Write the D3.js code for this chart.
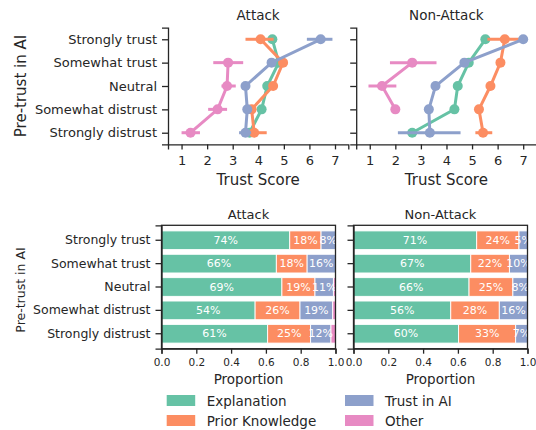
<!DOCTYPE html>
<html>
<head>
<meta charset="utf-8">
<script src="https://cdn.jsdelivr.net/npm/d3@7/dist/d3.min.js"></script>
<style>
  html, body { margin: 0; padding: 0; background: #fff; }
  svg { display: block; }
  svg text { font-family: "DejaVu Sans", Verdana, sans-serif !important; }
  .tick text { fill: #262626; }
  .tick line, .domain { stroke: #262626; }
</style>
</head>
<body>
<svg id="chart" width="536" height="430"></svg>
<script>
// ---------- data ----------
const categories = ["Strongly trust", "Somewhat trust", "Neutral", "Somewhat distrust", "Strongly distrust"];
const reasons = ["Explanation", "Prior Knowledge", "Trust in AI", "Other"];
const colors = ["#66c2a5", "#fc8d62", "#8da0cb", "#e78ac3"];
const panelTitles = ["Attack", "Non-Attack"];
const scoreTicks = [1, 2, 3, 4, 5, 6, 7];
const propTicks = [0, 0.2, 0.4, 0.6, 0.8, 1.0];

// mean trust score (null = no data), with CI low / high
const attackExplanation   = [4.55, 4.80, 4.35, 4.13, 3.66];
const attackExplanationLo = [4.45, 4.70, 4.25, 4.03, 3.55];
const attackExplanationHi = [4.65, 4.90, 4.45, 4.23, 3.77];
const attackPrior         = [4.09, 4.97, 4.58, 3.74, 3.84];
const attackPriorLo       = [3.50, 4.87, 4.48, 3.64, 3.48];
const attackPriorHi       = [4.60, 5.07, 4.68, 3.84, 4.33];
const attackTrustAI       = [6.44, 4.52, 3.50, 3.57, 3.50];
const attackTrustAILo     = [5.90, 4.42, 3.40, 3.47, 3.25];
const attackTrustAIHi     = [6.90, 4.62, 3.60, 3.67, 3.72];
const attackOther         = [null, 2.82, 2.78, 2.41, 1.35];
const attackOtherLo       = [null, 2.24, 2.56, 2.04, 1.00];
const attackOtherHi       = [null, 3.41, 3.12, 2.78, 1.72];

const nonAttackExplanation   = [5.52, 4.87, 4.44, 4.31, 2.66];
const nonAttackExplanationLo = [5.42, 4.77, 4.34, 4.21, 2.56];
const nonAttackExplanationHi = [5.62, 4.97, 4.54, 4.41, 2.76];
const nonAttackPrior         = [6.28, 6.11, 5.72, 5.27, 5.43];
const nonAttackPriorLo       = [5.60, 6.01, 5.62, 5.17, 5.13];
const nonAttackPriorHi       = [6.90, 6.21, 5.82, 5.37, 5.79];
const nonAttackTrustAI       = [7.00, 4.70, 3.57, 3.31, 3.35];
const nonAttackTrustAILo     = [7.00, 4.60, 3.47, 3.21, 2.10];
const nonAttackTrustAIHi     = [7.00, 4.80, 3.67, 3.41, 4.55];
const nonAttackOther         = [null, 2.66, 1.48, 2.00, null];
const nonAttackOtherLo       = [null, 1.79, 0.95, 2.00, null];
const nonAttackOtherHi       = [null, 3.61, 2.04, 2.00, null];

// proportions of reasons
const propAttackExplanation    = [0.737, 0.660, 0.692, 0.538, 0.610];
const propAttackPrior          = [0.180, 0.177, 0.190, 0.258, 0.247];
const propAttackTrustAI        = [0.083, 0.163, 0.106, 0.188, 0.117];
const propAttackOther          = [0.000, 0.000, 0.012, 0.016, 0.026];
const propNonAttackExplanation = [0.708, 0.674, 0.664, 0.559, 0.604];
const propNonAttackPrior       = [0.243, 0.222, 0.252, 0.279, 0.328];
const propNonAttackTrustAI     = [0.049, 0.104, 0.084, 0.162, 0.068];
const propNonAttackOther       = [0.000, 0.000, 0.000, 0.000, 0.000];

// ---------- build tables ----------
const scorePanels = [
  [[attackExplanation, attackExplanationLo, attackExplanationHi],
   [attackPrior, attackPriorLo, attackPriorHi],
   [attackTrustAI, attackTrustAILo, attackTrustAIHi],
   [attackOther, attackOtherLo, attackOtherHi]],
  [[nonAttackExplanation, nonAttackExplanationLo, nonAttackExplanationHi],
   [nonAttackPrior, nonAttackPriorLo, nonAttackPriorHi],
   [nonAttackTrustAI, nonAttackTrustAILo, nonAttackTrustAIHi],
   [nonAttackOther, nonAttackOtherLo, nonAttackOtherHi]]
];
const propPanels = [
  [propAttackExplanation, propAttackPrior, propAttackTrustAI, propAttackOther],
  [propNonAttackExplanation, propNonAttackPrior, propNonAttackTrustAI, propNonAttackOther]
];

const FONT = "DejaVu Sans";
const svg = d3.select("#chart").attr("font-family", FONT);
const textColor = "#262626";

// ---------- top: point plots ----------
const topLefts = [168, 356.2];
const topWidth = 180.3;
const yTop = d3.scalePoint().domain(categories).range([27.6, 144.4]).padding(0.5);

scorePanels.forEach((series, p) => {
  const x = d3.scaleLinear().domain([0.47, 7.52]).range([topLefts[p], topLefts[p] + topWidth]);
  const g = svg.append("g");

  const xa = g.append("g").attr("transform", `translate(0,${yTop.range()[1]})`)
    .call(d3.axisBottom(x).tickValues(scoreTicks).tickFormat(d3.format("d")).tickSizeOuter(0).tickSize(5).tickPadding(6))
    .attr("font-family", FONT);
  xa.selectAll("text").style("font-size", "13px");
  xa.selectAll("line, path").attr("stroke-width", 1.3);

  const ya = g.append("g").attr("transform", `translate(${topLefts[p]},0)`)
    .call(d3.axisLeft(yTop).tickSizeOuter(0).tickSize(6).tickPadding(5))
    .attr("font-family", FONT);
  ya.selectAll("line, path").attr("stroke-width", 1.3);
  if (p === 0) ya.selectAll("text").style("font-size", "13px");
  else ya.selectAll("text").remove();

  g.append("text").attr("x", topLefts[p] + topWidth / 2).attr("y", 20)
    .attr("text-anchor", "middle").style("font-size", "13.5px").attr("fill", textColor)
    .text(panelTitles[p]);
  g.append("text").attr("x", topLefts[p] + topWidth / 2).attr("y", 185)
    .attr("text-anchor", "middle").style("font-size", "15px").attr("fill", textColor)
    .text("Trust Score");

  series.forEach(([mean, lo, hi], s) => {
    const pts = categories.map((c, i) => ({ c, v: mean[i], lo: lo[i], hi: hi[i] }))
      .filter(d => d.v !== null);
    const sg = g.append("g");
    sg.selectAll("line.err").data(pts.filter(d => d.hi > d.lo)).join("line")
      .attr("x1", d => x(d.lo)).attr("x2", d => x(d.hi))
      .attr("y1", d => yTop(d.c)).attr("y2", d => yTop(d.c))
      .attr("stroke", colors[s]).attr("stroke-width", 3);
    sg.append("path").datum(pts)
      .attr("d", d3.line().x(d => x(d.v)).y(d => yTop(d.c)))
      .attr("fill", "none").attr("stroke", colors[s]).attr("stroke-width", 3);
    sg.selectAll("circle").data(pts).join("circle")
      .attr("cx", d => x(d.v)).attr("cy", d => yTop(d.c)).attr("r", 5)
      .attr("fill", colors[s]);
  });
});

svg.append("text").attr("transform", "translate(21,86) rotate(-90)")
  .attr("text-anchor", "middle").attr("dominant-baseline", "central")
  .style("font-size", "15px").attr("fill", textColor).text("Pre-trust in AI");

// ---------- bottom: stacked bars ----------
const botLefts = [161.5, 353.5];
const botWidth = 174;
const yBot = d3.scaleBand().domain(categories).range([225.3, 348.7]).paddingInner(0.2).paddingOuter(0.24);
const pctFmt = d3.format(".0%");

propPanels.forEach((series, p) => {
  const x = d3.scaleLinear().domain([0, 1]).range([botLefts[p], botLefts[p] + botWidth]);
  const g = svg.append("g");
  const clipId = "clip" + p;
  svg.append("clipPath").attr("id", clipId).append("rect")
    .attr("x", botLefts[p]).attr("y", yBot.range()[0]).attr("width", botWidth)
    .attr("height", yBot.range()[1] - yBot.range()[0]);

  const rows = categories.map((c, i) => {
    let acc = 0;
    return series.map((arr, s) => {
      const d = { c, s, x0: acc, v: arr[i] };
      acc += arr[i];
      return d;
    });
  }).flat();

  const bars = g.append("g").attr("clip-path", `url(#${clipId})`);
  bars.selectAll("rect").data(rows.filter(d => d.v > 0)).join("rect")
    .attr("x", d => x(d.x0)).attr("width", d => x(d.x0 + d.v) - x(d.x0))
    .attr("y", d => yBot(d.c)).attr("height", yBot.bandwidth())
    .attr("fill", d => colors[d.s]).attr("stroke", "#fff").attr("stroke-width", 0.9);
  bars.selectAll("text").data(rows.filter(d => d.v >= 0.04)).join("text")
    .attr("x", d => x(d.x0 + d.v / 2)).attr("y", d => yBot(d.c) + yBot.bandwidth() / 2)
    .attr("text-anchor", "middle").attr("dominant-baseline", "central")
    .style("font-size", "11px").attr("fill", "#fff")
    .text(d => pctFmt(d.v));

  g.append("rect").attr("x", botLefts[p]).attr("y", yBot.range()[0])
    .attr("width", botWidth).attr("height", yBot.range()[1] - yBot.range()[0])
    .attr("fill", "none").attr("stroke", textColor).attr("stroke-width", 1.3);

  const xa = g.append("g").attr("transform", `translate(0,${yBot.range()[1]})`)
    .call(d3.axisBottom(x).tickValues(propTicks).tickFormat(d3.format(".1f")).tickSizeOuter(0).tickSize(5).tickPadding(5))
    .attr("font-family", FONT);
  xa.selectAll("text").style("font-size", "10.5px");
  xa.selectAll("line, path").attr("stroke-width", 1.3);

  const ya = g.append("g").attr("transform", `translate(${botLefts[p]},0)`)
    .call(d3.axisLeft(yBot).tickSizeOuter(0).tickSize(6).tickPadding(5))
    .attr("font-family", FONT);
  ya.selectAll("line, path").attr("stroke-width", 1.3);
  if (p === 0) ya.selectAll("text").style("font-size", "12.5px");
  else ya.selectAll("text").remove();

  g.append("text").attr("x", botLefts[p] + botWidth / 2).attr("y", 219)
    .attr("text-anchor", "middle").style("font-size", "13px").attr("fill", textColor)
    .text(panelTitles[p]);
  g.append("text").attr("x", botLefts[p] + botWidth / 2).attr("y", 384)
    .attr("text-anchor", "middle").style("font-size", "13.5px").attr("fill", textColor)
    .text("Proportion");
});

svg.append("text").attr("transform", "translate(20,290) rotate(-90)")
  .attr("text-anchor", "middle").attr("dominant-baseline", "central")
  .style("font-size", "12.5px").attr("fill", textColor).text("Pre-trust in AI");

// ---------- legend ----------
const legendX = [166.7, 345];
const legendY = [395, 415];
const leg = svg.append("g");
reasons.forEach((r, i) => {
  const col = Math.floor(i / 2), row = i % 2;
  leg.append("rect").attr("x", legendX[col]).attr("y", legendY[row])
    .attr("width", 28.5).attr("height", 11).attr("fill", colors[i]);
  leg.append("text").attr("x", legendX[col] + 40).attr("y", legendY[row] + 5.5)
    .attr("dominant-baseline", "central").style("font-size", "13.5px").attr("fill", textColor)
    .text(r);
});
</script>
</body>
</html>
